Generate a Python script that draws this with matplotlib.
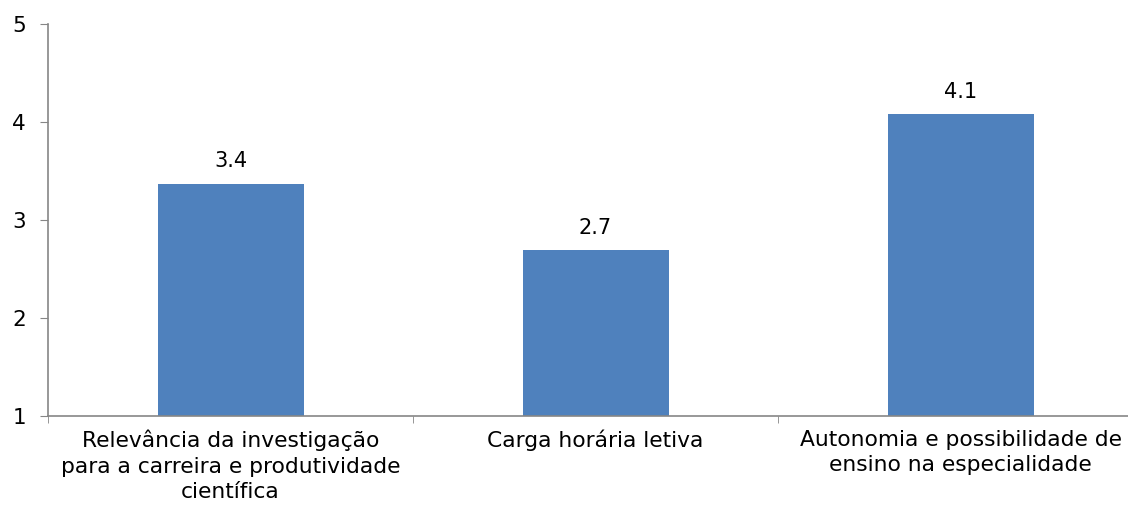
import matplotlib.pyplot as plt

categorias = ['Relevância da investigação\npara a carreira e produtividade\ncientífica',
              'Carga horária letiva',
              'Autonomia e possibilidade de\nensino na especialidade']
valores = [3.37, 2.69, 4.08]
rotulos = ['3.4', '2.7', '4.1']

plt.rcParams['font.family'] = ['DejaVu Sans']

fig = plt.figure(figsize=(11.28, 5.09), dpi=100)
ax = fig.add_axes([0.0426, 0.1827, 0.9707, 0.7701])

x = range(len(categorias))
barras = ax.bar(x, [v - 1 for v in valores], bottom=1, width=0.4, color='#4F81BD')

for b, r in zip(barras, rotulos):
    ax.annotate(r, (b.get_x() + b.get_width() / 2, b.get_y() + b.get_height()),
                xytext=(0, 9), textcoords='offset points', ha='center', va='bottom', fontsize=15)

ax.set_xlim(-0.5, 2.5)
ax.set_ylim(1, 5)
ax.set_yticks([1, 2, 3, 4, 5])
ax.set_xticks(list(x))
ax.set_xticklabels(categorias, fontsize=15.7, linespacing=1.32)
ax.set_xticks([-0.5, 0.5, 1.5, 2.5], minor=True)
ax.tick_params(axis='x', which='major', length=0, pad=10)
ax.tick_params(axis='x', which='minor', length=5, color='#868686', direction='out')
ax.tick_params(axis='y', length=6, color='#868686', labelsize=15.5, pad=10)

for s in ['top', 'right']:
    ax.spines[s].set_visible(False)
for s in ['left', 'bottom']:
    ax.spines[s].set_color('#868686')
    ax.spines[s].set_linewidth(1.2)

fig.savefig('out.png', dpi=100)
